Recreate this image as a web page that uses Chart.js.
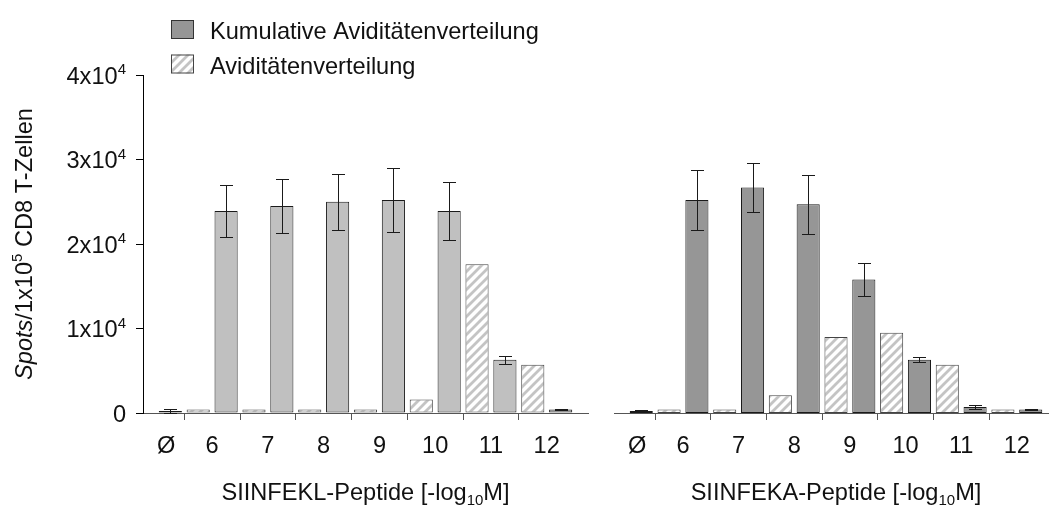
<!DOCTYPE html>
<html>
<head>
<meta charset="utf-8">
<script src="https://cdn.jsdelivr.net/npm/chart.js@4.4.1/dist/chart.umd.min.js"></script>
<style>
  html, body { margin: 0; padding: 0; background: #fff; }
  #wrap { position: relative; width: 1049px; height: 505px; overflow: hidden; background: #fff; }
  #left { position: absolute; left: 0; top: 0; }
  #right { position: absolute; left: 590px; top: 0; }
</style>
</head>
<body>
<div id="wrap">
  <canvas id="left" width="600" height="505"></canvas>
  <canvas id="right" width="480" height="505"></canvas>
</div>
<script>
// Peptide concentrations (-log10 M); Ø = without peptide
const categories = ['Ø', '6', '7', '8', '9', '10', '11', '12'];
const seriesNames = ['Kumulative Aviditätenverteilung', 'Aviditätenverteilung'];

// SIINFEKL: spots per 1x10^5 CD8 T cells
const siinfeklKumulativ   = [250, 23900, 24500, 25000, 25200, 23900, 6300, 400];
const siinfeklKumulativSD = [200, 3100, 3200, 3300, 3800, 3400, 500, 100];
const siinfeklVerteilung  = [null, 400, 400, 400, 400, 1600, 17600, 5700];

// SIINFEKA
const siinfekaKumulativ   = [250, 25200, 26700, 24700, 15800, 6300, 700, 400];
const siinfekaKumulativSD = [150, 3500, 2900, 3500, 2000, 300, 200, 100];
const siinfekaVerteilung  = [null, 400, 400, 2100, 9000, 9500, 5700, 400];

// y axis ticks: [mantissa text, exponent]
const yTickValues = [0, 10000, 20000, 30000, 40000];
const yTickLabels = [['0', ''], ['1x10', '4'], ['2x10', '4'], ['3x10', '4'], ['4x10', '4']];
const yTitleParts = ['Spots', '/1x10', '5', ' CD8 T-Zellen'];
const panelTitles = [
  ['SIINFEKL-Peptide [-log', '10', 'M]'],
  ['SIINFEKA-Peptide [-log', '10', 'M]']
];

const FAMILY = '"Liberation Sans", Arial, Helvetica, sans-serif';
const FS = 23.6;
const FS_SMALL = 15;
const TEXT = '#111';
const DARK = '#969696';
const LIGHT = '#c0c0c0';

function hatchPattern(ctx) {
  const s = 9;
  const c = document.createElement('canvas');
  c.width = s; c.height = s;
  const g = c.getContext('2d');
  g.fillStyle = '#fff';
  g.fillRect(0, 0, s, s);
  g.strokeStyle = '#c4c4c4';
  g.lineWidth = 2.8;
  g.beginPath();
  g.moveTo(0, s); g.lineTo(s, 0);
  g.moveTo(-s / 2, s / 2); g.lineTo(s / 2, -s / 2);
  g.moveTo(s / 2, s * 1.5); g.lineTo(s * 1.5, s / 2);
  g.stroke();
  return ctx.createPattern(c, 'repeat');
}

function drawRuns(ctx, runs, x, y, align) {
  const parts = runs.map(r => {
    ctx.font = r.font;
    return Object.assign({}, r, { w: ctx.measureText(r.text).width });
  });
  const total = parts.reduce((a, p) => a + p.w, 0);
  let cx = align === 'right' ? x - total : (align === 'center' ? x - total / 2 : x);
  ctx.textAlign = 'left';
  ctx.textBaseline = 'alphabetic';
  ctx.fillStyle = TEXT;
  parts.forEach(p => {
    ctx.font = p.font;
    ctx.fillText(p.text, cx, y + (p.dy || 0));
    cx += p.w;
  });
}

const mainFont = `${FS}px ${FAMILY}`;
const smallFont = `${FS_SMALL}px ${FAMILY}`;
const italicFont = `italic ${FS}px ${FAMILY}`;

// standard deviations drawn as whiskers on the cumulative bars
const errorBars = {
  id: 'errorBars',
  afterDatasetsDraw(chart) {
    const { ctx } = chart;
    const y = chart.scales.y;
    chart.data.datasets.forEach((ds, di) => {
      if (!ds.errors) return;
      const meta = chart.getDatasetMeta(di);
      meta.data.forEach((bar, i) => {
        const v = ds.data[i].y;
        const e = ds.errors[i];
        if (v == null || !e) return;
        const x = Math.round(bar.x) + 0.5;
        const top = Math.round(y.getPixelForValue(v + e)) + 0.5;
        const bot = Math.round(y.getPixelForValue(Math.max(v - e, 0))) + 0.5;
        const hw = 6.5;
        ctx.save();
        ctx.strokeStyle = '#1a1a1a';
        ctx.lineWidth = 1;
        ctx.beginPath();
        ctx.moveTo(x, top); ctx.lineTo(x, bot);
        ctx.moveTo(x - hw, top); ctx.lineTo(x + hw, top);
        ctx.moveTo(x - hw, bot); ctx.lineTo(x + hw, bot);
        ctx.stroke();
        ctx.restore();
      });
    });
  }
};

// panel caption under the x axis, with subscript
const xTitle = {
  id: 'xTitle',
  afterDraw(chart, args, opts) {
    const { ctx, chartArea } = chart;
    const t = opts.parts;
    const cx = (chartArea.left + chartArea.right) / 2;
    ctx.save();
    drawRuns(ctx, [
      { text: t[0], font: mainFont },
      { text: t[1], font: smallFont, dy: 5 },
      { text: t[2], font: mainFont }
    ], cx, 500, 'center');
    ctx.restore();
  }
};

// y tick labels with exponents, rotated y title and legend
const yDecor = {
  id: 'yDecor',
  afterDraw(chart) {
    const { ctx, chartArea } = chart;
    const y = chart.scales.y;
    ctx.save();
    yTickValues.forEach((v, i) => {
      const py = y.getPixelForValue(v);
      const [m, ex] = yTickLabels[i];
      drawRuns(ctx, [
        { text: m, font: mainFont },
        { text: ex, font: smallFont, dy: -9.5 }
      ], 126, py + 8.5, 'right');
    });
    ctx.restore();

    ctx.save();
    ctx.translate(31.5, (chartArea.top + chartArea.bottom) / 2);
    ctx.rotate(-Math.PI / 2);
    drawRuns(ctx, [
      { text: yTitleParts[0], font: italicFont },
      { text: yTitleParts[1], font: mainFont },
      { text: yTitleParts[2], font: smallFont, dy: -9.5 },
      { text: yTitleParts[3], font: mainFont }
    ], 0, 0, 'center');
    ctx.restore();

    // legend
    ctx.save();
    const rows = [
      { label: seriesNames[0], fill: DARK, stroke: '#333', top: 20 },
      { label: seriesNames[1], fill: hatchPattern(ctx), stroke: '#444', top: 54.5 }
    ];
    rows.forEach(r => {
      ctx.fillStyle = r.fill;
      ctx.fillRect(171, r.top, 23, 19);
      ctx.strokeStyle = r.stroke;
      ctx.lineWidth = 1;
      ctx.strokeRect(171.5, r.top + 0.5, 22, 18);
      drawRuns(ctx, [{ text: r.label, font: mainFont }], 210, r.top + 19, 'left');
    });
    ctx.restore();
  }
};

function makePanel(canvasId, kum, sd, vert, kumColor, title, showY, padLeft) {
  const canvas = document.getElementById(canvasId);
  const ctx = canvas.getContext('2d');
  const hatch = hatchPattern(ctx);
  const vertData = [];
  vert.forEach((v, i) => { if (v != null) vertData.push({ x: i, y: v }); });
  const plugins = [errorBars, xTitle];
  if (showY) plugins.push(yDecor);
  return new Chart(ctx, {
    type: 'bar',
    data: {
      datasets: [
        {
          label: seriesNames[1],
          data: vertData,
          backgroundColor: hatch,
          borderColor: '#444',
          borderWidth: 1,
          borderSkipped: false
        },
        {
          label: seriesNames[0],
          data: kum.map((v, i) => ({ x: i, y: v })),
          errors: sd,
          backgroundColor: kumColor,
          borderColor: '#1a1a1a',
          borderWidth: 1,
          borderSkipped: false
        }
      ]
    },
    options: {
      responsive: false,
      animation: false,
      devicePixelRatio: 1,
      categoryPercentage: 1.0,
      barPercentage: 0.83,
      layout: { padding: { left: padLeft, top: 75, right: 12, bottom: 0 } },
      plugins: {
        legend: { display: false },
        tooltip: { enabled: false },
        xTitle: { parts: title }
      },
      scales: {
        x: {
          type: 'linear',
          offset: false,
          min: -0.24,
          max: 7.74,
          afterBuildTicks: s => { s.ticks = categories.map((_, i) => ({ value: i })); },
          afterFit: s => { s.height = 92; },
          ticks: {
            // the control label sits under its single bar
            callback: v => (v === 0 ? '   ' + categories[v] : categories[v]),
            autoSkip: false,
            maxRotation: 0,
            padding: 12,
            color: TEXT,
            font: { family: FAMILY, size: FS }
          },
          grid: {
            offset: true,
            drawOnChartArea: false,
            drawTicks: true,
            tickLength: 7,
            lineWidth: 1,
            color: c => (c.type === 'tick' ? '#555' : 'rgba(0,0,0,0)')
          },
          border: { display: true, color: '#555', width: 1 }
        },
        y: {
          display: showY,
          min: 0,
          max: 40000,
          afterBuildTicks: s => { s.ticks = yTickValues.map(v => ({ value: v })); },
          afterFit: s => { s.width = showY ? 143 : 0; },
          ticks: { display: false },
          grid: { drawOnChartArea: false, drawTicks: true, tickLength: 7, color: '#000' },
          border: { display: true, color: '#000', width: 1 }
        }
      }
    },
    plugins
  });
}

// SIINFEKL: control and highest dilution in darker grey
const leftColors = siinfeklKumulativ.map((_, i) => (i === 0 || i === categories.length - 1 ? DARK : LIGHT));
makePanel('left', siinfeklKumulativ, siinfeklKumulativSD, siinfeklVerteilung, leftColors, panelTitles[0], true, 0);
makePanel('right', siinfekaKumulativ, siinfekaKumulativSD, siinfekaVerteilung, DARK, panelTitles[1], false, 24);
</script>
</body>
</html>
